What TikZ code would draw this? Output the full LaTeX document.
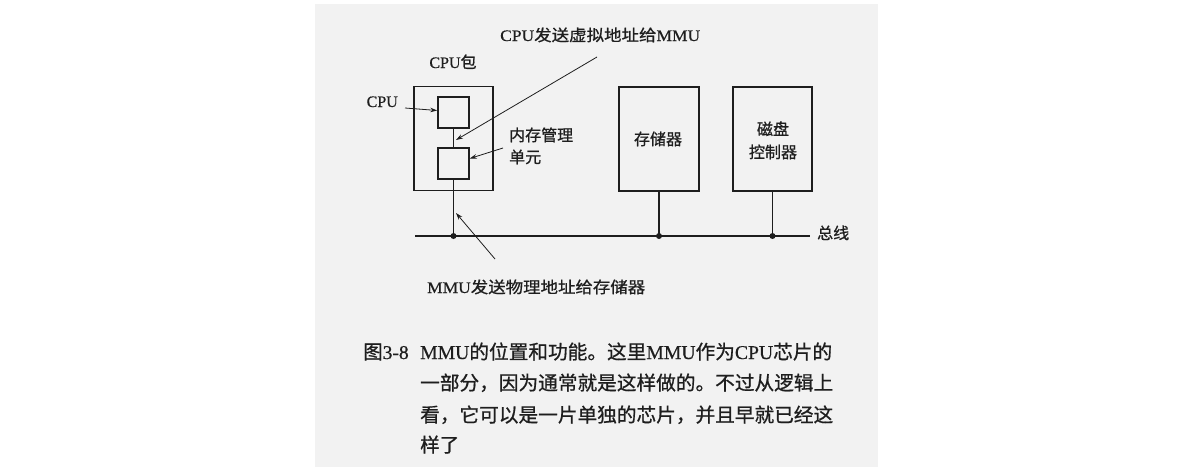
\documentclass[tikz,border=0pt]{standalone}
\usepackage{fontspec}
\usepackage{graphicx}
\setmainfont{Liberation Serif}[UprightFeatures={FakeBold=0.6}]
\newfontfamily\cjk{Noto Sans CJK SC}[FakeBold=0.8]
\usetikzlibrary{arrows.meta}
\definecolor{pagebg}{RGB}{242,242,242}
\definecolor{ink}{RGB}{30,30,30}
\newcommand{\fitw}[2]{\resizebox{#1}{\height}{#2}}
\begin{document}
\begin{tikzpicture}[x=1pt,y=-1pt,
  box/.style={draw=ink, line width=1.5pt, inner sep=0pt},
  wire/.style={draw=ink, line width=1.5pt},
  arr/.style={draw=ink, line width=0.8pt, -{Stealth[length=7pt,width=4.5pt]}},
  lbl/.style={text=ink, inner sep=0pt, font=\fontsize{16}{18}\selectfont},
  captxt/.style={text=ink, inner sep=0pt, font=\fontsize{19.5}{22}\selectfont},
  busdot/.style={circle, fill=ink, inner sep=0pt, minimum size=6pt}]
\useasboundingbox (0,0) rectangle (1203,471);
\fill[white] (0,0) rectangle (1203,471);
\fill[pagebg] (315,4) rectangle (878,467);

% boxes
\node[box, minimum width=79pt, minimum height=104pt] (pkg) at (453.5,138.5) {};
\node[box, minimum width=31pt, minimum height=31pt] (cpu) at (453.5,112.5) {};
\node[box, minimum width=31pt, minimum height=31pt] (mmu) at (453.5,163.5) {};
\node[box, minimum width=80pt, minimum height=104pt] (mem) at (659,139) {};
\node[box, minimum width=79pt, minimum height=104pt] (disk) at (772.5,139) {};

% bus
\coordinate (busL) at (415,236);
\coordinate (busR) at (810,236);
\node[busdot] (d1) at (453.5,236) {};
\node[busdot] (d2) at (659,236) {};
\node[busdot] (d3) at (772.5,236) {};
\draw[wire] (busL) -- (busR);
\draw[wire] (cpu.south) -- (mmu.north);
\draw[wire] (mmu.south) -- (d1.center);
\draw[wire] (mem.south) -- (d2.center);
\draw[wire] (disk.south) -- (d3.center);

% labels
\node[lbl, anchor=base] (pkgL) at (453,68) {CPU{\cjk 包}};
\node[lbl, anchor=base east] (cpuL) at (398,107) {CPU};
\node[lbl, anchor=base west] (mmuL1) at (509,141) {\cjk 内存管理};
\node[lbl, anchor=base west] (mmuL2) at (509,163) {\cjk 单元};
\node[lbl, anchor=base] (memL) at (658,145) {\cjk 存储器};
\node[lbl, anchor=base] (diskL1) at (773,135) {\cjk 磁盘};
\node[lbl, anchor=base] (diskL2) at (773,158) {\cjk 控制器};
\node[lbl, anchor=base west] (busLbl) at (817,239) {\cjk 总线};
\node[lbl, anchor=base west] (virtL) at (500,41) {\fitw{200pt}{CPU{\cjk 发送虚拟地址给}MMU}};
\node[lbl, anchor=base west] (physL) at (427,293) {\fitw{218pt}{MMU{\cjk 发送物理地址给存储器}}};

% arrows
\coordinate (a1s) at (405,108);
\coordinate (a2s) at (503,148);
\coordinate (a3s) at (597,57);
\coordinate (vtip) at (456,140);
\coordinate (a4s) at (495,259);
\coordinate (ptip) at (456,213);
\draw[arr] (a1s) -- ([yshift=2pt]cpu.west);
\draw[arr] (a2s) -- ([yshift=5pt]mmu.east);
\draw[arr] (a3s) -- (vtip);
\draw[arr] (a4s) -- (ptip);

% caption
\node[captxt, anchor=base west] (figno) at (363,359) {{\cjk 图}3-8};
\node[captxt, anchor=base west] (c1) at (420,359) {\fitw{412pt}{MMU{\cjk 的位置和功能。这里}MMU{\cjk 作为}CPU{\cjk 芯片的}}};
\node[captxt, anchor=base west] (c2) at (420,390) {\fitw{413pt}{\cjk 一部分，因为通常就是这样做的。不过从逻辑上}};
\node[captxt, anchor=base west] (c3) at (420,422) {\fitw{413pt}{\cjk 看，它可以是一片单独的芯片，并且早就已经这}};
\node[captxt, anchor=base west] (c4) at (420,452) {\cjk 样了};
\end{tikzpicture}
\end{document}
